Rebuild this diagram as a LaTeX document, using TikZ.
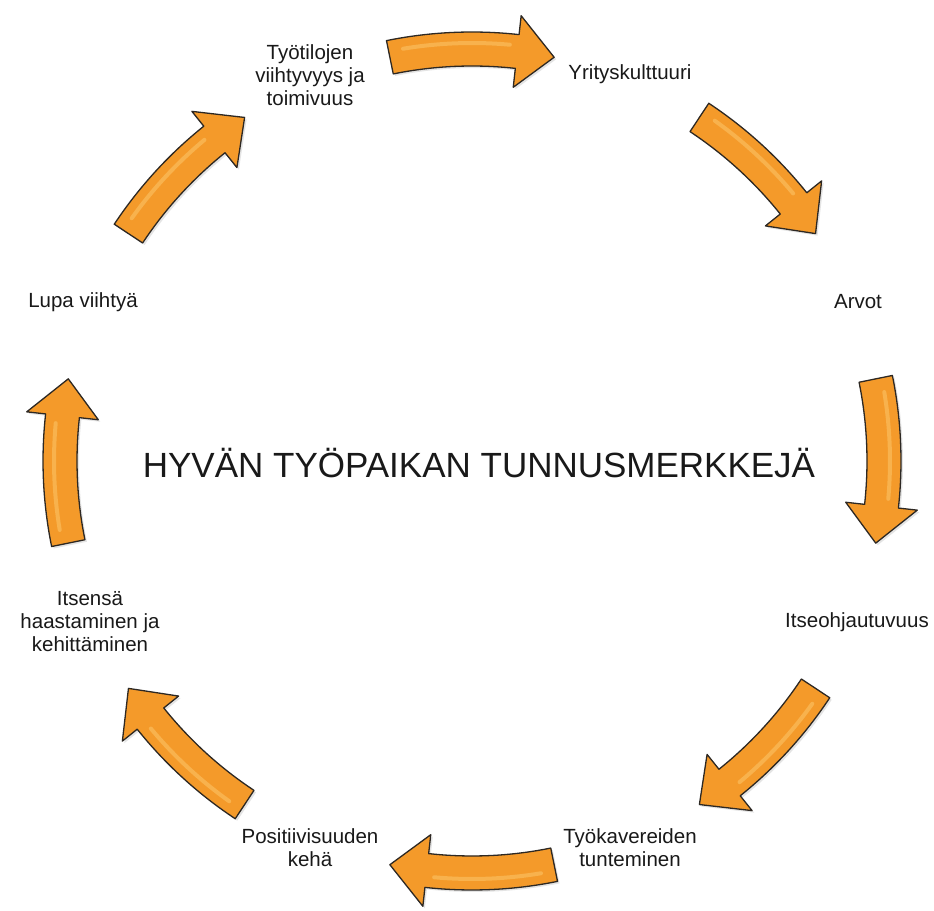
\documentclass[tikz,border=0pt]{standalone}
\usepackage{fontspec}
\setmainfont{Liberation Sans}
\definecolor{arrorange}{RGB}{244,154,42}
\definecolor{arrhl}{RGB}{255,214,130}
\definecolor{arredge}{RGB}{45,40,35}
\definecolor{txt}{RGB}{25,25,25}
\tikzset{
  lbl/.style={align=center, inner sep=0pt, text=txt, font=\fontsize{20.5}{23}\selectfont},
  ttl/.style={inner sep=0pt, text=txt, font=\fontsize{35}{40}\selectfont},
  arrowbody/.style={fill=arrorange, draw=arredge, line width=1.3pt, line join=round},
  arrowshade/.style={fill=black!30, opacity=0.35},
  arrowhl/.style={draw=arrhl, line width=4pt, line cap=round, opacity=0.4},
}
\newcommand{\curvedarrow}[1]{%
  \pgfmathsetmacro{\aS}{#1+11.5}%
  \pgfmathsetmacro{\aT}{#1-11.5}%
  \pgfmathsetmacro{\aH}{#1-11.5+5.2}%
  \pgfmathsetmacro{\hS}{#1+9.5}%
  \pgfmathsetmacro{\hE}{#1-5.2}%
  \fill[arrowshade, shift={(2,-2)}] (\aS:429) arc[start angle=\aS, end angle=\aH, radius=429] -- (\aH:448) -- (\aT:412) -- (\aH:376) -- (\aH:395) arc[start angle=\aH, end angle=\aS, radius=395] -- cycle;
  \draw[arrowbody] (\aS:429) arc[start angle=\aS, end angle=\aH, radius=429] -- (\aH:448) -- (\aT:412) -- (\aH:376) -- (\aH:395) arc[start angle=\aH, end angle=\aS, radius=395] -- cycle;
  \draw[arrowhl] (\hS:418) arc[start angle=\hS, end angle=\hE, radius=418];
}
\begin{document}
\begin{tikzpicture}[x=1pt,y=1pt]
\useasboundingbox (0,0) rectangle (934,910);
\fill[white] (0,0) rectangle (934,910);
\begin{scope}[shift={(472,449)}]
  \foreach \c in {90,45,0,-45,-90,-135,-180,-225} {\curvedarrow{\c}}
\end{scope}
\node[lbl] (tyotilat) at (310,835) {Työtilojen\\viihtyvyys ja\\toimivuus};
\node[lbl] (yrityskulttuuri) at (630,836) {Yrityskulttuuri};
\node[lbl] (arvot) at (858,608) {Arvot};
\node[lbl] (itseohjautuvuus) at (857,288) {Itseohjautuvuus};
\node[lbl] (tyokaverit) at (630,62) {Työkavereiden\\tunteminen};
\node[lbl] (positiivisuus) at (310,62) {Positiivisuuden\\kehä};
\node[lbl] (itsensa) at (90,288) {Itsensä\\haastaminen ja\\kehittäminen};
\node[lbl] (lupa) at (83,608) {Lupa viihtyä};
\node[ttl] (title) at (479,447) {HYVÄN TYÖPAIKAN TUNNUSMERKKEJÄ};
\end{tikzpicture}
\end{document}
